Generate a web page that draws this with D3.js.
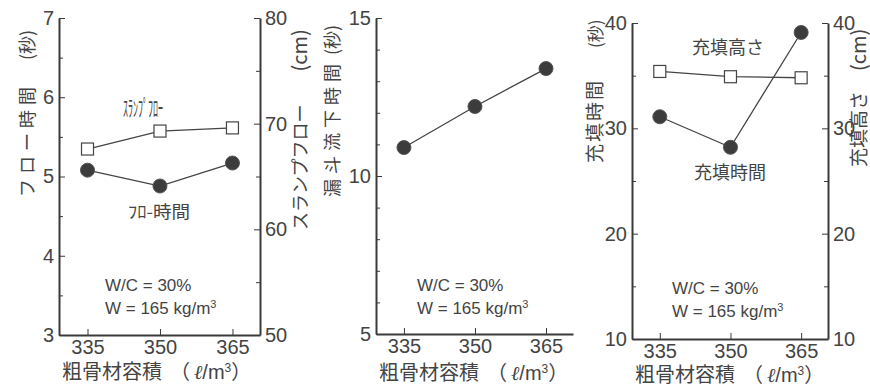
<!DOCTYPE html>
<html>
<head>
<meta charset="utf-8">
<script src="https://cdn.jsdelivr.net/npm/d3@7"></script>
<style>
  body { margin: 0; background: #fff; }
  svg { display: block; }
  .tick text { font-family: "Liberation Sans", Arial, sans-serif; font-size: 20px; fill: #444; }
  .jp { font-family: "Noto Sans CJK JP", sans-serif; fill: #444; }
  .num { font-family: "Liberation Sans", Arial, sans-serif; fill: #444; }
</style>
</head>
<body>
<div id="chart"></div>
<script>
// data
var volumes = [335, 350, 365];           // 粗骨材容積 (l/m3)
var flowTime = [5.08, 4.88, 5.17];       // フロー時間 (秒)
var slumpFlow = [67.6, 69.3, 69.6];      // スランプフロー (cm)
var funnelTime = [10.9, 12.2, 13.4];     // 漏斗流下時間 (秒)
var fillTime = [31.1, 28.2, 39.1];       // 充填時間 (秒)
var fillHeight = [35.4, 34.9, 34.8];     // 充填高さ (cm)

var W = 870, H = 389;
var ink = "#3a3a3a";

var svg = d3.select("#chart").append("svg")
  .attr("width", W)
  .attr("height", H);

function makeAxisY(g, scale, side, major, minor) {
  var ax = side == "left" ? d3.axisLeft(scale) : d3.axisRight(scale);
  ax.tickValues(major).tickSizeInner(-6).tickSizeOuter(0).tickPadding(5).tickFormat(d3.format("d"));
  g.call(ax);
  var mi = side == "left" ? d3.axisLeft(scale) : d3.axisRight(scale);
  mi.tickValues(minor).tickSizeInner(-4).tickSizeOuter(0).tickFormat("");
  g.append("g").call(mi).select(".domain").remove();
  g.selectAll("path, line").attr("stroke", ink);
  g.selectAll(".domain").attr("stroke-width", 2);
}

// rotated title, written from the bottom (y) upwards
function vTitle(g, t) {
  var tx = g.append("text").attr("class", "jp")
    .attr("transform", "translate(" + t.x + "," + t.y + ") rotate(-90)")
    .attr("dy", "0.35em");
  tx.append("tspan")
    .style("font-size", t.size + "px")
    .style("letter-spacing", t.ls + "px")
    .text(t.text);
  tx.append("tspan")
    .attr("dx", t.gap)
    .style("font-size", t.psize + "px")
    .style("letter-spacing", "0px")
    .text(t.paren);
}

function panel(p) {
  var g = svg.append("g");
  var x = d3.scaleLinear().domain([329.1, 370.7]).range([p.x0, p.x1]);
  var yL = d3.scaleLinear().domain(p.left.domain).range([p.y1, p.y0]);

  // bottom axis
  var gx = g.append("g").attr("transform", "translate(0," + p.y1 + ")");
  gx.call(d3.axisBottom(x).tickValues(volumes).tickSizeInner(-6).tickSizeOuter(0).tickPadding(4));
  gx.selectAll("path, line").attr("stroke", ink);
  gx.select(".domain").attr("stroke-width", 2);
  gx.selectAll(".tick text").attr("dy", "0.75em");

  var gl = g.append("g").attr("transform", "translate(" + p.x0 + ",0)");
  makeAxisY(gl, yL, "left", p.left.major, p.left.minor);

  var yR = null;
  if (p.right) {
    yR = d3.scaleLinear().domain(p.right.domain).range([p.y1, p.y0]);
    var gr = g.append("g").attr("transform", "translate(" + p.x1 + ",0)");
    makeAxisY(gr, yR, "right", p.right.major, p.right.minor);
  }

  // axis titles
  vTitle(g, p.leftTitle);
  if (p.rightTitle) vTitle(g, p.rightTitle);

  var xt = g.append("text").attr("class", "jp")
    .attr("x", p.x0 + 3).attr("y", p.titleY)
    .style("font-size", "20px");
  xt.append("tspan").text("粗骨材容積");
  xt.append("tspan").attr("dx", 8).text("（");
  xt.append("tspan").attr("dx", 4).style("font-style", "italic").style("font-family", "\"DejaVu Serif\", serif").text("ℓ");
  xt.append("tspan").attr("class", "num").text("/m");
  xt.append("tspan").attr("class", "num").style("font-size", "12px").attr("dy", -7).text("3");
  xt.append("tspan").attr("dy", 7).text("）");

  // conditions
  g.append("text").attr("class", "num")
    .attr("x", p.note.x).attr("y", p.note.y)
    .style("font-size", "17px")
    .text("W/C = 30%");
  var t2 = g.append("text").attr("class", "num")
    .attr("x", p.note.x).attr("y", p.note.y + 23)
    .style("font-size", "17px");
  t2.append("tspan").text("W = 165 kg/m");
  t2.append("tspan").style("font-size", "11px").attr("dy", -6).text("3");

  // series
  p.series.forEach(function(s) {
    var ys = s.axis == "right" ? yR : yL;
    var line = d3.line().x(function(d, i) { return x(volumes[i]); }).y(function(d) { return ys(d); });
    g.append("path").datum(s.values)
      .attr("d", line)
      .attr("fill", "none")
      .attr("stroke", "#444")
      .attr("stroke-width", 1.3);
    if (s.marker == "circle") {
      g.selectAll(null).data(s.values).enter().append("circle")
        .attr("cx", function(d, i) { return x(volumes[i]); })
        .attr("cy", function(d) { return ys(d); })
        .attr("r", 7)
        .attr("fill", "#3c3c3c")
        .attr("stroke", "#555")
        .attr("stroke-width", 1);
    } else {
      g.selectAll(null).data(s.values).enter().append("rect")
        .attr("x", function(d, i) { return x(volumes[i]) - 6; })
        .attr("y", function(d) { return ys(d) - 6; })
        .attr("width", 12).attr("height", 12)
        .attr("fill", "#fff")
        .attr("stroke", "#444")
        .attr("stroke-width", 1.2);
    }
    if (s.label) {
      var lt = g.append("text").attr("class", "jp")
        .attr("x", s.label.x).attr("y", s.label.y)
        .attr("text-anchor", "middle").attr("dy", "0.35em")
        .style("font-size", s.label.size + "px")
        .text(s.label.text);
      if (s.label.len) lt.attr("textLength", s.label.len).attr("lengthAdjust", "spacingAndGlyphs");
    }
  });
}

panel({
  x0: 59, x1: 260, y0: 18, y1: 335, titleY: 379,
  left: { domain: [3, 7], major: [3, 4, 5, 6, 7], minor: [3.5, 4.5, 5.5, 6.5] },
  right: { domain: [50, 80], major: [50, 60, 70, 80], minor: [55, 65, 75] },
  leftTitle: { text: "フロー時間", paren: "(秒)", x: 28, y: 197, size: 18, ls: 5, gap: 22, psize: 18 },
  rightTitle: { text: "スランプフロー", paren: "(cm)", x: 301, y: 230, size: 18, ls: 0, gap: 33, psize: 20 },
  note: { x: 105, y: 291 },
  series: [
    { values: slumpFlow, axis: "right", marker: "square",
      label: { text: "ｽﾗﾝﾌﾟﾌﾛｰ", x: 143, y: 108, size: 22, len: 40 } },
    { values: flowTime, axis: "left", marker: "circle",
      label: { text: "ﾌﾛ-時間", x: 159, y: 212, size: 17, len: 62 } }
  ]
});

panel({
  x0: 376, x1: 573, y0: 18, y1: 334, titleY: 380,
  left: { domain: [5, 15], major: [5, 10, 15], minor: [6, 7, 8, 9, 11, 12, 13, 14] },
  right: null,
  leftTitle: { text: "漏斗流下時間", paren: "(秒)", x: 333, y: 197, size: 18, ls: 5, gap: 4, psize: 18 },
  note: { x: 417, y: 291 },
  series: [
    { values: funnelTime, axis: "left", marker: "circle" }
  ]
});

panel({
  x0: 632, x1: 828, y0: 23, y1: 339, titleY: 382,
  left: { domain: [10, 40], major: [10, 20, 30, 40], minor: [15, 25, 35] },
  right: { domain: [10, 40], major: [10, 20, 30, 40], minor: [15, 25, 35] },
  leftTitle: { text: "充填時間", paren: "(秒)", x: 596, y: 163, size: 19, ls: 2, gap: 31, psize: 17 },
  rightTitle: { text: "充填高さ", paren: "(cm)", x: 860, y: 167, size: 19, ls: 0, gap: 20, psize: 20 },
  note: { x: 672, y: 294 },
  series: [
    { values: fillHeight, axis: "right", marker: "square",
      label: { text: "充填高さ", x: 728, y: 48, size: 18 } },
    { values: fillTime, axis: "left", marker: "circle",
      label: { text: "充填時間", x: 730, y: 173, size: 18 } }
  ]
});
</script>
</body>
</html>
